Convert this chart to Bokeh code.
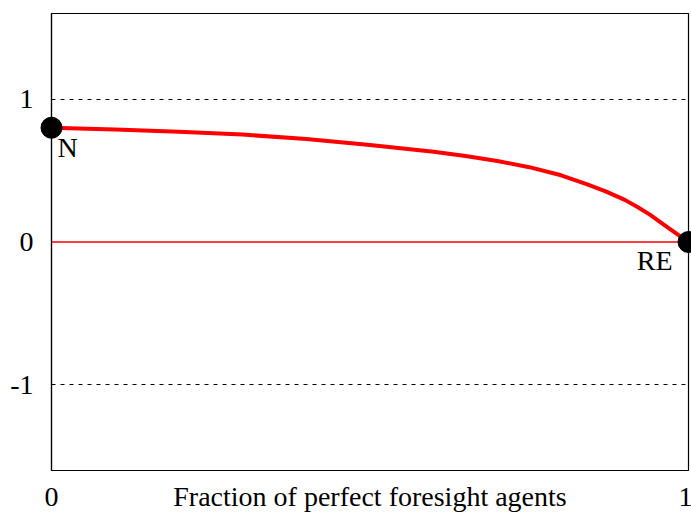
from bokeh.plotting import figure
from bokeh.models import FixedTicker, Range1d
from bokeh.core.properties import value
from bokeh.embed import file_html
from bokeh.resources import INLINE

# data
curve_x = [0.0, 0.1, 0.2, 0.3, 0.4, 0.5, 0.6, 0.65, 0.7, 0.75, 0.8, 0.84, 0.87, 0.9, 0.92, 0.94, 0.96, 0.975, 0.99, 1.0]
curve_y = [0.80, 0.787, 0.772, 0.752, 0.722, 0.68, 0.632, 0.602, 0.567, 0.524, 0.467, 0.405, 0.355, 0.295, 0.245, 0.19, 0.125, 0.078, 0.03, 0.0]
zero_x = [0.0, 1.0]
zero_y = [0.0, 0.0]
point_x = [0.0, 1.0]
point_y = [0.80, 0.0]
point_labels = ["N", "RE"]
y_ticks = [-1, 0, 1]
y_tick_labels = ["-1", "0", "1"]
x_ticks = [0, 0.5, 1]
x_tick_labels = ["0", "Fraction of perfect foresight agents", "1"]

FONT = "Liberation Serif"
FS = "28px"
Y0, Y1 = -1.6, 1.6

p = figure(output_backend="svg", toolbar_location=None,
           width=691, height=513,
           x_range=Range1d(0, 1), y_range=Range1d(Y0, Y1),
           min_border_left=51, min_border_right=3, min_border_top=13, min_border_bottom=43)
p.background_fill_color = "white"
p.border_fill_color = "white"
p.outline_line_color = "black"
p.outline_line_width = 1.2

p.xgrid.visible = False
p.ygrid.ticker = FixedTicker(ticks=[-1, 1])
p.ygrid.grid_line_color = "black"
p.ygrid.grid_line_dash = "4 5"
p.ygrid.grid_line_width = 1

for ax in (p.xaxis[0], p.yaxis[0]):
    ax.major_tick_in = 0
    ax.major_tick_out = 0
    ax.minor_tick_in = 0
    ax.minor_tick_out = 0
    ax.axis_line_color = "black"
    ax.axis_line_width = 1.2
    ax.major_label_text_font = FONT
    ax.major_label_text_font_size = FS
    ax.major_label_text_color = "black"

p.yaxis.ticker = FixedTicker(ticks=y_ticks)
p.yaxis.major_label_overrides = {t: s for t, s in zip(y_ticks, y_tick_labels)}
p.yaxis.major_label_standoff = 18
# bottom labels drawn as text below the frame (same row as in the original)
p.xaxis.ticker = FixedTicker(ticks=[])
p.xaxis.major_label_text_font_size = "0px"

p.line(zero_x, zero_y, line_color="red", line_width=1.5)
p.line(curve_x, curve_y, line_color="red", line_width=4)
p.scatter(point_x, point_y, size=21, fill_color="black", line_color="black", level="overlay")

p.text(x=[point_x[0]], y=[point_y[0]], text=[point_labels[0]], x_offset=6, y_offset=20,
       text_align="left", text_baseline="alphabetic", text_font=value(FONT),
       text_font_size=FS, text_color="black")
p.text(x=[point_x[1]], y=[point_y[1]], text=[point_labels[1]], x_offset=-16, y_offset=18,
       text_align="right", text_baseline="alphabetic", text_font=value(FONT),
       text_font_size=FS, text_color="black")

p.text(x=x_ticks, y=[Y0] * len(x_ticks), text=x_tick_labels,
       x_offset=[0, 0, -3], y_offset=26,
       text_align="center", text_baseline="alphabetic", text_font=value(FONT),
       text_font_size=FS, text_color="black", level="overlay")

open("out.html", "w").write(file_html(p, INLINE))
